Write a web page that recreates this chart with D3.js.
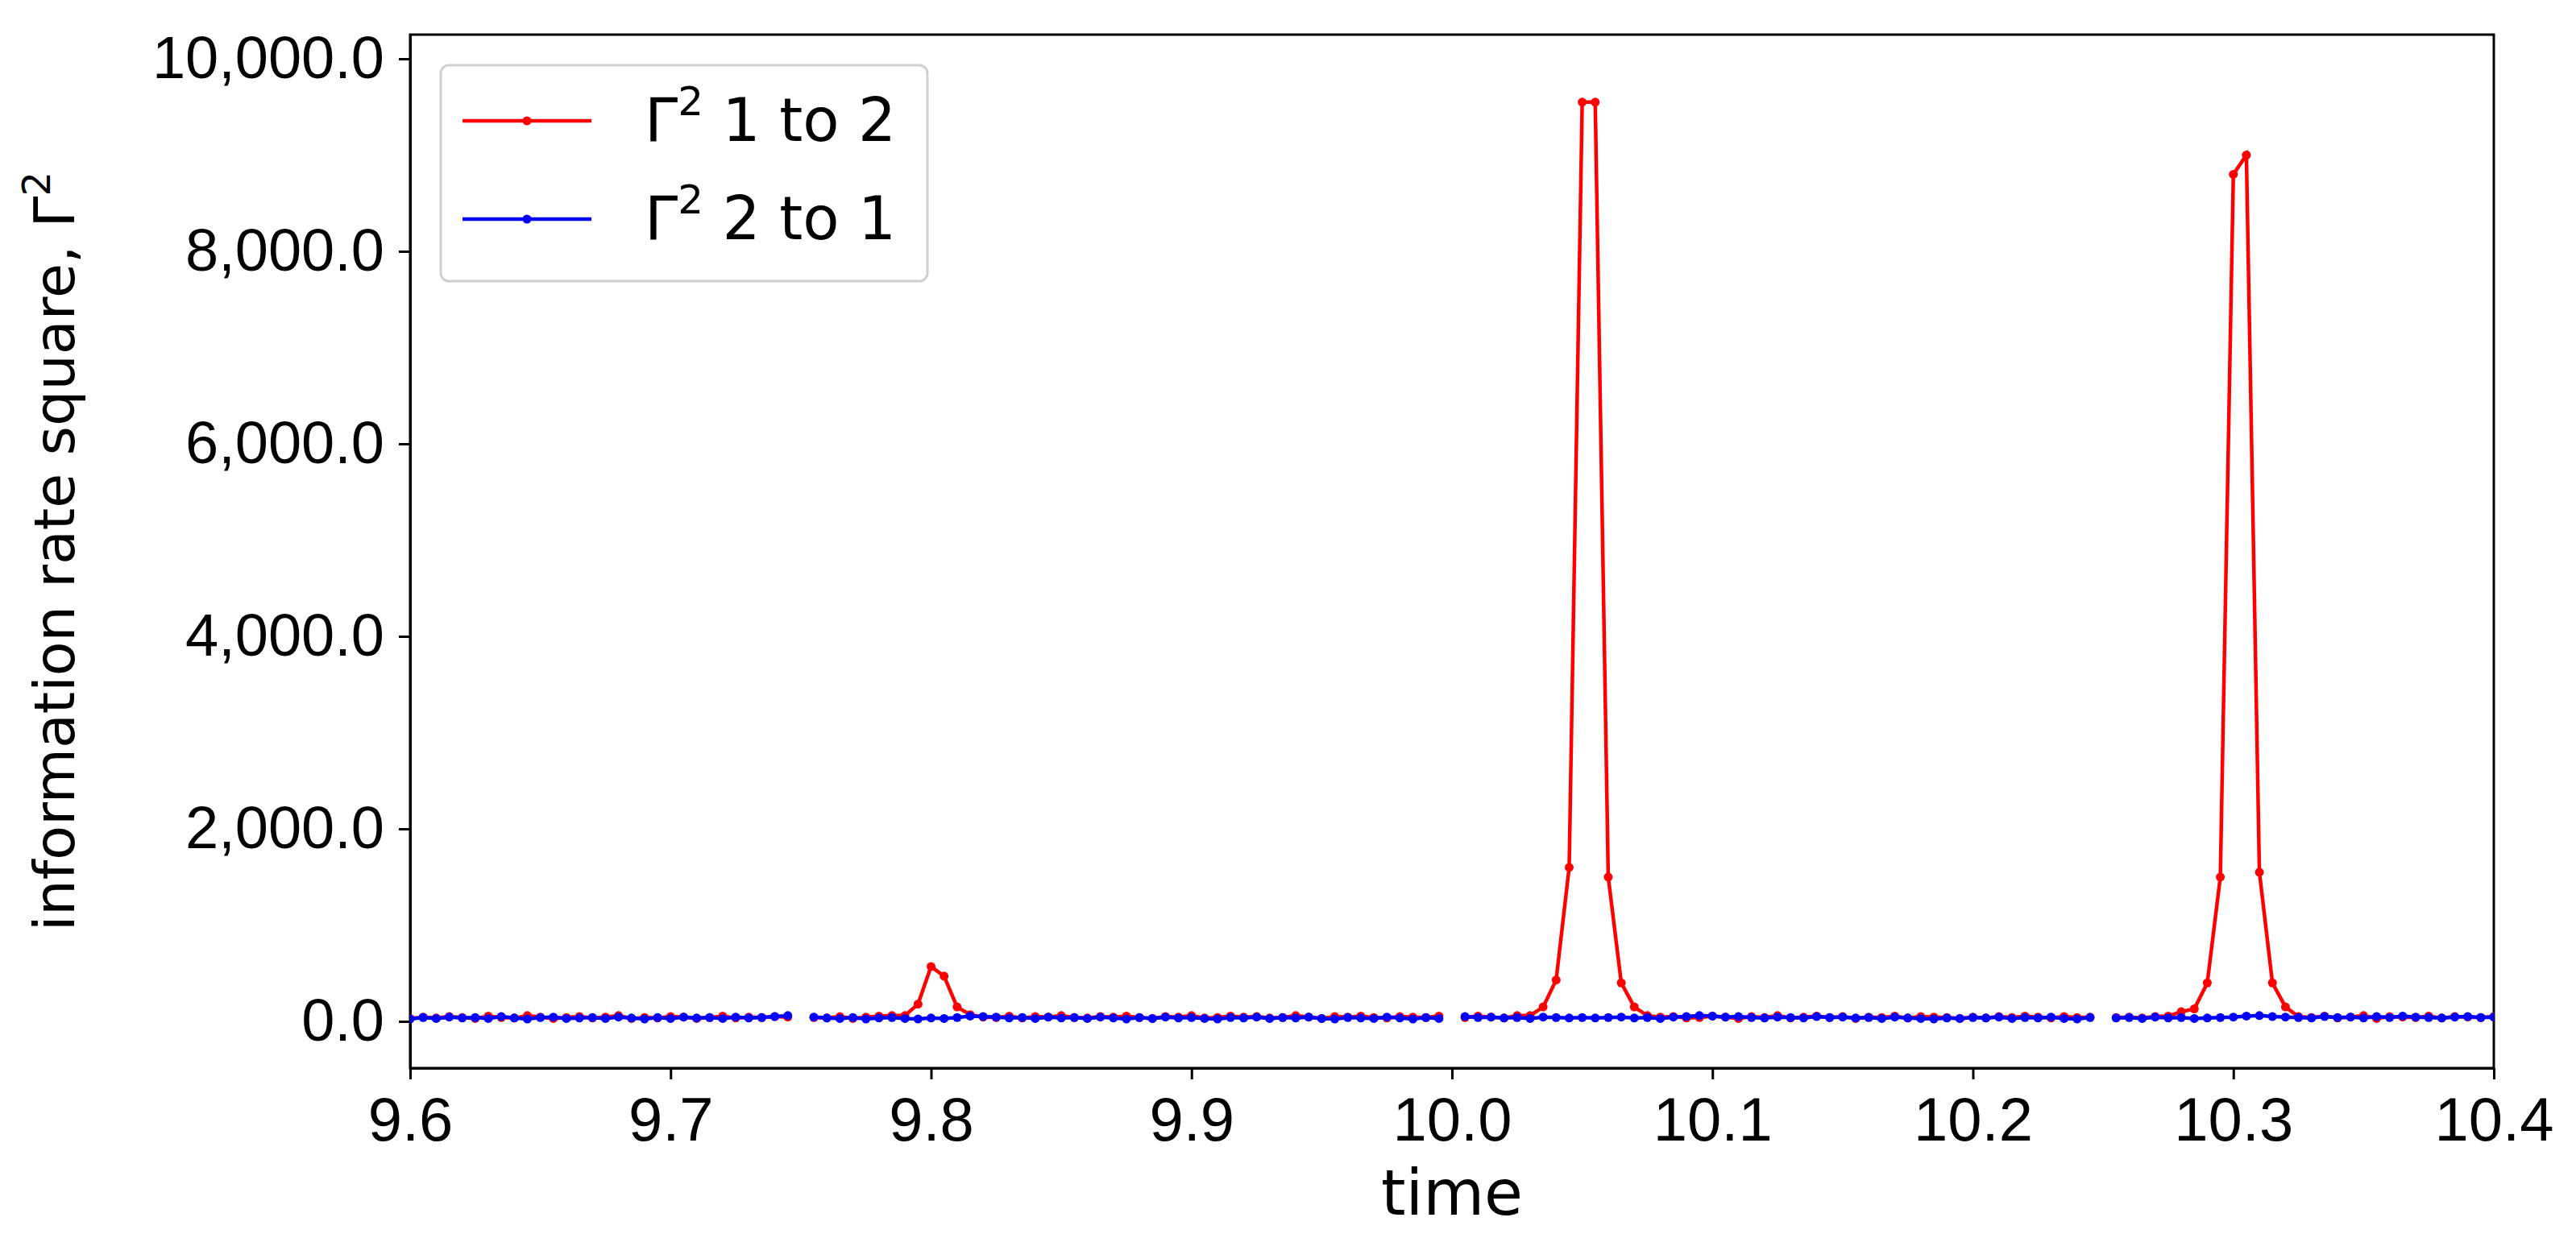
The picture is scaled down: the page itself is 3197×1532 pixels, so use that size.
<!DOCTYPE html>
<html><head><meta charset="utf-8">
<script src="https://cdn.jsdelivr.net/npm/d3@7"></script>
<style>body{margin:0;background:#fff}svg{font-family:"DejaVu Sans",sans-serif}</style>
</head><body><svg id="c" width="3197" height="1532"></svg>
<script>
const xTicks=[9.6,9.7,9.8,9.9,10.0,10.1,10.2,10.3,10.4];
const yTicks=[0,2000,4000,6000,8000,10000];
const seriesNames=["1 to 2","2 to 1"];
const red=[30,45,35,50,40,30,55,40,35,60,45,30,40,50,35,45,60,30,40,35,50,45,30,40,55,35,45,40,50,45,
null,
40,35,50,30,45,55,60,60,180,570,470,150,70,
45,40,55,35,50,45,60,40,35,50,45,55,40,30,50,45,60,35,40,55,45,50,35,40,60,45,30,50,45,55,40,35,50,45,40,55,
null,
40,55,45,35,60,60,150,430,1600,9550,9550,1500,400,150,60,
45,50,35,40,55,45,30,50,40,60,35,45,55,40,50,30,45,40,55,35,50,45,40,30,45,35,50,40,55,45,35,50,40,45,
null,
40,45,35,50,55,100,130,400,1500,8800,9000,1550,400,150,50,
40,55,35,45,60,30,50,45,40,55,35,50,45,40,50];
const blue=[25,40,30,45,35,40,30,50,35,25,40,45,30,35,40,30,45,35,25,40,30,45,35,40,30,45,35,40,50,60,
null,
45,35,30,40,25,35,40,30,25,35,30,40,55,50,45,35,40,30,45,35,40,30,45,35,25,40,30,45,35,40,30,25,40,35,45,30,40,35,45,30,25,40,35,30,45,35,25,40,30,
null,
50,40,45,35,40,30,45,40,35,40,35,40,45,35,40,30,45,50,60,55,45,50,40,35,45,40,35,50,40,45,35,40,30,45,35,30,25,35,30,40,35,45,30,40,35,45,30,25,40,
null,
35,40,30,45,35,40,30,35,40,45,55,60,50,45,40,35,50,40,45,35,50,40,55,45,40,35,45,50,40,45];
const time=red.map((_,i)=>9.6+i*0.005);

const svg=d3.select("#c");
const L=509,R=3095,T=43,B=1326;
const x=d3.scaleLinear().domain([9.6,10.4]).range([L,R]);
const y=d3.scaleLinear().domain([-485,10251]).range([B,T]);
const fmt=d3.format(",.1f");
svg.append("g").attr("transform",`translate(0,${B})`)
 .call(d3.axisBottom(x).tickValues(xTicks).tickFormat(d3.format(".1f")).tickSize(14).tickPadding(4).tickSizeOuter(0))
 .call(g=>g.selectAll("text").attr("font-size",76).attr("dy","0.95em").attr("fill","#000"))
 .call(g=>g.selectAll("line,path").attr("stroke","#000").attr("stroke-width",3));
svg.append("g").attr("transform",`translate(${L},0)`)
 .call(d3.axisLeft(y).tickValues(yTicks).tickFormat(fmt).tickSize(14).tickPadding(18).tickSizeOuter(0))
 .call(g=>g.selectAll("text").attr("font-size",74).attr("fill","#000"))
 .call(g=>g.selectAll("line,path").attr("stroke","#000").attr("stroke-width",3));
svg.append("rect").attr("x",L).attr("y",T).attr("width",R-L).attr("height",B-T).attr("fill","none").attr("stroke","#000").attr("stroke-width",3);

svg.append("text").attr("x",(L+R)/2).attr("y",1508).attr("text-anchor","middle").attr("font-size",78).text("time");
const yl=svg.append("text").attr("transform",`translate(92,${(T+B)/2}) rotate(-90)`).attr("text-anchor","middle").attr("font-size",70);
yl.append("tspan").text("information rate square, Γ");
yl.append("tspan").attr("dy",-30).attr("font-size",48).text("2");

const line=d3.line().defined(d=>d!=null).x((d,i)=>x(time[i])).y(d=>y(d));
svg.append("clipPath").attr("id","cp").append("rect").attr("x",L).attr("y",T).attr("width",R-L).attr("height",B-T);
const plot=svg.append("g").attr("clip-path","url(#cp)");
[[red,"#ff0000"],[blue,"#0000ff"]].forEach(([s,c])=>{
  plot.append("path").datum(s).attr("d",line).attr("fill","none").attr("stroke",c).attr("stroke-width",4.5);
  plot.selectAll(null).data(s.map((v,i)=>[time[i],v]).filter(d=>d[1]!=null)).join("circle")
   .attr("cx",d=>x(d[0])).attr("cy",d=>y(d[1])).attr("r",5.5).attr("fill",c);
});

const lg=svg.append("g");
lg.append("rect").attr("x",547).attr("y",81).attr("width",604).attr("height",268).attr("rx",10)
 .attr("fill","#fff").attr("fill-opacity",0.8).attr("stroke","#d0d0d0").attr("stroke-width",3);
[["#ff0000",seriesNames[0],150],["#0000ff",seriesNames[1],272]].forEach(([c,t,yy])=>{
  lg.append("line").attr("x1",574).attr("x2",734).attr("y1",yy).attr("y2",yy).attr("stroke",c).attr("stroke-width",4.5);
  lg.append("circle").attr("cx",654).attr("cy",yy).attr("r",5.5).attr("fill",c);
  const tx=lg.append("text").attr("x",800).attr("y",yy+25).attr("font-size",74);
  tx.append("tspan").text("Γ");
  tx.append("tspan").attr("dy",-32).attr("font-size",50).text("2");
  tx.append("tspan").attr("dy",32).text(" "+t);
});
</script></body></html>
